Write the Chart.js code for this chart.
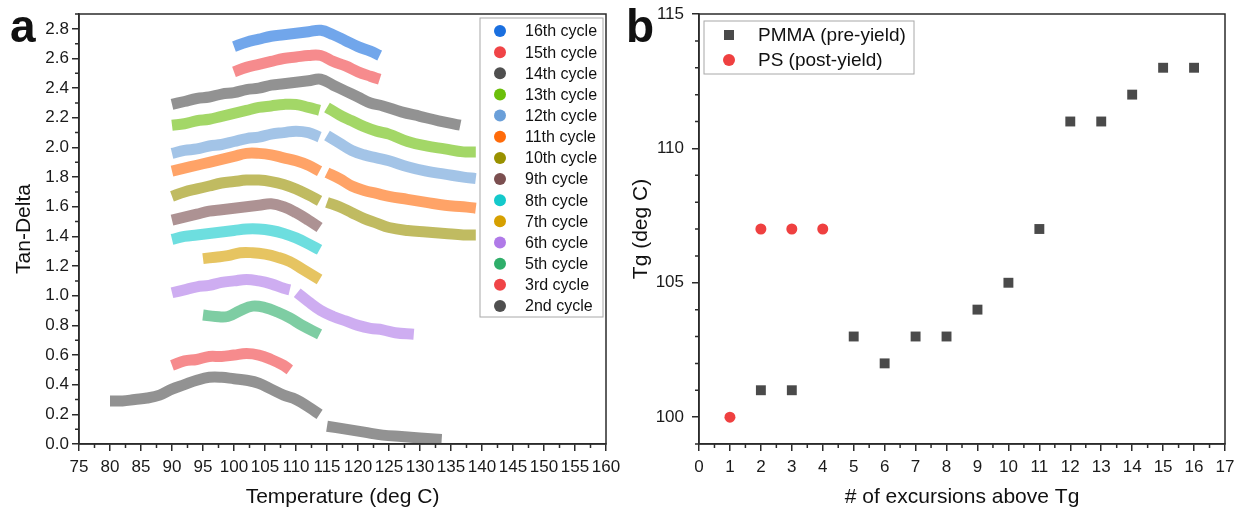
<!DOCTYPE html>
<html>
<head>
<meta charset="utf-8">
<script src="https://cdn.jsdelivr.net/npm/chart.js@4.4.1/dist/chart.umd.min.js"></script>
<style>
  body { margin: 0; background: #fff; }
  .panel { position: absolute; top: 0; height: 512px; }
</style>
</head>
<body>
<div class="panel" style="left:0;width:625px"><canvas id="chartA" width="625" height="512"></canvas></div>
<div class="panel" style="left:619px;width:619px"><canvas id="chartB" width="619" height="512"></canvas></div>
<script>
// ===== Panel a data: tan-delta vs temperature (null = gap in the trace) =====
const temp16 = [100, 102, 104, 106, 108, 110, 112, 114, 116, 118, 120, 122, 123.5];
const tan16  = [2.68, 2.71, 2.73, 2.75, 2.76, 2.77, 2.78, 2.79, 2.76, 2.72, 2.68, 2.65, 2.62];
const temp15 = [100, 102, 104, 106, 108, 110, 112, 114, 116, 118, 120, 122, 123.5];
const tan15  = [2.51, 2.54, 2.56, 2.58, 2.60, 2.61, 2.62, 2.62, 2.58, 2.55, 2.51, 2.48, 2.46];
const temp14 = [90, 92, 94, 96, 98, 100, 102, 104, 106, 108, 110, 112, 114, 116, 118, 120, 122, 124, 127, 130, 133, 136.5];
const tan14  = [2.29, 2.31, 2.33, 2.34, 2.36, 2.37, 2.39, 2.40, 2.42, 2.43, 2.44, 2.45, 2.46, 2.42, 2.38, 2.34, 2.30, 2.28, 2.24, 2.21, 2.18, 2.15];
const temp13 = [90, 92, 94, 96, 98, 100, 102, 104, 106, 108, 110, 112, 113.8, 114.4, 115, 117, 119, 121, 123, 125, 128, 131, 134, 137, 139];
const tan13  = [2.15, 2.16, 2.18, 2.19, 2.21, 2.23, 2.25, 2.27, 2.28, 2.29, 2.29, 2.27, 2.25, null, 2.27, 2.22, 2.18, 2.14, 2.11, 2.09, 2.04, 2.01, 1.99, 1.97, 1.97];
const temp12 = [90, 92, 94, 96, 98, 100, 102, 104, 106, 108, 110, 112, 113.8, 114.4, 115, 117, 119, 121, 123, 125, 128, 131, 134, 137, 139];
const tan12  = [1.96, 1.98, 1.99, 2.01, 2.02, 2.04, 2.06, 2.07, 2.09, 2.10, 2.11, 2.10, 2.07, null, 2.08, 2.03, 1.98, 1.95, 1.93, 1.91, 1.87, 1.84, 1.82, 1.80, 1.79];
const temp11 = [90, 92, 94, 96, 98, 100, 102, 104, 106, 108, 110, 112, 113.8, 114.4, 115, 117, 119, 121, 123, 125, 128, 131, 134, 137, 139];
const tan11  = [1.84, 1.86, 1.88, 1.90, 1.92, 1.94, 1.96, 1.96, 1.95, 1.93, 1.91, 1.88, 1.84, null, 1.83, 1.79, 1.74, 1.71, 1.69, 1.67, 1.65, 1.63, 1.61, 1.60, 1.59];
const temp10 = [90, 92, 94, 96, 98, 100, 102, 104, 106, 108, 110, 112, 113.8, 114.4, 115, 117, 119, 121, 123, 125, 128, 131, 134, 137, 139];
const tan10  = [1.67, 1.70, 1.72, 1.74, 1.76, 1.77, 1.78, 1.78, 1.77, 1.75, 1.72, 1.68, 1.64, null, 1.63, 1.60, 1.56, 1.52, 1.49, 1.46, 1.44, 1.43, 1.42, 1.41, 1.41];
const temp9  = [90, 92, 94, 96, 98, 100, 102, 104, 106, 108, 110, 112, 113.8];
const tan9   = [1.51, 1.53, 1.55, 1.57, 1.58, 1.59, 1.60, 1.61, 1.62, 1.60, 1.56, 1.51, 1.46];
const temp8  = [90, 92, 94, 96, 98, 100, 102, 104, 106, 108, 110, 112, 113.8];
const tan8   = [1.38, 1.40, 1.41, 1.42, 1.43, 1.44, 1.45, 1.45, 1.44, 1.42, 1.39, 1.35, 1.31];
const temp7  = [95, 97, 99, 101, 103, 105, 107, 109, 111, 113.8];
const tan7   = [1.25, 1.26, 1.27, 1.29, 1.29, 1.28, 1.26, 1.23, 1.18, 1.11];
const temp6  = [90, 92, 94, 96, 98, 100, 102, 104, 106, 108, 109, 109.6, 110.2, 112, 114, 116, 118, 120, 122, 124, 126, 129];
const tan6   = [1.02, 1.04, 1.06, 1.07, 1.09, 1.10, 1.11, 1.10, 1.08, 1.05, 1.04, null, 1.02, 0.96, 0.90, 0.86, 0.83, 0.80, 0.78, 0.77, 0.75, 0.74];
const temp5  = [95, 97, 99, 101, 103, 105, 107, 109, 111, 113.8];
const tan5   = [0.87, 0.86, 0.86, 0.90, 0.93, 0.92, 0.89, 0.85, 0.80, 0.74];
const temp3  = [90, 92, 94, 96, 98, 100, 102, 104, 106, 108, 109];
const tan3   = [0.53, 0.56, 0.57, 0.59, 0.59, 0.60, 0.61, 0.60, 0.57, 0.53, 0.50];
const temp2  = [80, 82, 84, 86, 88, 90, 92, 94, 96, 98, 100, 102, 104, 106, 108, 110, 112, 113.8, 114.4, 115, 118, 121, 124, 127, 130, 133.5];
const tan2   = [0.29, 0.29, 0.30, 0.31, 0.33, 0.37, 0.40, 0.43, 0.45, 0.45, 0.44, 0.43, 0.41, 0.37, 0.33, 0.30, 0.25, 0.20, null, 0.12, 0.10, 0.08, 0.06, 0.05, 0.04, 0.03];

const cycleLabels = ['16th cycle', '15th cycle', '14th cycle', '13th cycle', '12th cycle', '11th cycle', '10th cycle',
                     '9th cycle', '8th cycle', '7th cycle', '6th cycle', '5th cycle', '3rd cycle', '2nd cycle'];
const cycleTemps = [temp16, temp15, temp14, temp13, temp12, temp11, temp10, temp9, temp8, temp7, temp6, temp5, temp3, temp2];
const cycleTans  = [tan16, tan15, tan14, tan13, tan12, tan11, tan10, tan9, tan8, tan7, tan6, tan5, tan3, tan2];
const cycleColors = ['#1a6fdf', '#f04447', '#4f4f4f', '#6bbf0a', '#6a9fd9', '#ff6b0a', '#999100',
                     '#7b4f50', '#14c9cb', '#d6a000', '#b07ae8', '#2fae6a', '#f04447', '#4f4f4f'];

const tempTicks = [75, 80, 85, 90, 95, 100, 105, 110, 115, 120, 125, 130, 135, 140, 145, 150, 155, 160];
const tanTicks = [0, 0.2, 0.4, 0.6, 0.8, 1.0, 1.2, 1.4, 1.6, 1.8, 2.0, 2.2, 2.4, 2.6, 2.8];

// ===== Panel b data: Tg vs number of excursions =====
const pmmaExcursions = [2, 3, 5, 6, 7, 8, 9, 10, 11, 12, 13, 14, 15, 16];
const pmmaTg = [101, 101, 103, 102, 103, 103, 104, 105, 107, 111, 111, 112, 113, 113];
const psExcursions = [1, 2, 3, 4];
const psTg = [100, 107, 107, 107];

const excursionTicks = [0, 1, 2, 3, 4, 5, 6, 7, 8, 9, 10, 11, 12, 13, 14, 15, 16, 17];
const tgTicks = [100, 105, 110, 115];

const FONT = "'Liberation Sans', Arial, sans-serif";
const AXIS = '#2b2b2b';

function alpha(hex, a) {
  const n = parseInt(hex.slice(1), 16);
  return `rgba(${n >> 16}, ${(n >> 8) & 255}, ${n & 255}, ${a})`;
}

// frame, minor ticks, axis titles, panel letter and legend box
const decorPlugin = {
  id: 'decor',
  afterDraw(chart, args, o) {
    const { ctx, chartArea: a, scales: { x, y } } = chart;
    ctx.save();
    ctx.strokeStyle = AXIS;
    ctx.lineWidth = 1.5;
    ctx.strokeRect(a.left, a.top, a.right - a.left, a.bottom - a.top);

    ctx.beginPath();
    o.xMinor.forEach(v => { const px = x.getPixelForValue(v); ctx.moveTo(px, a.bottom); ctx.lineTo(px, a.bottom + 4); });
    o.yMinor.forEach(v => { const py = y.getPixelForValue(v); ctx.moveTo(a.left, py); ctx.lineTo(a.left - 4, py); });
    ctx.stroke();

    ctx.fillStyle = '#111';
    ctx.font = `21px ${FONT}`;
    ctx.textAlign = 'center';
    ctx.textBaseline = 'middle';
    ctx.fillText(o.xTitle, (a.left + a.right) / 2, 497);
    ctx.save();
    ctx.translate(o.yTitleX, (a.top + a.bottom) / 2);
    ctx.rotate(-Math.PI / 2);
    ctx.fillText(o.yTitle, 0, 0);
    ctx.restore();

    ctx.font = `bold 46px ${FONT}`;
    ctx.textAlign = 'left';
    ctx.textBaseline = 'alphabetic';
    ctx.fillText(o.letter, o.letterX, 42);

    const L = o.legend;
    ctx.strokeStyle = '#a8a8a8';
    ctx.lineWidth = 1;
    ctx.strokeRect(L.x, L.y, L.w, L.h);
    ctx.font = `${L.fontSize}px ${FONT}`;
    ctx.textBaseline = 'middle';
    chart.data.datasets.forEach((ds, i) => {
      const cy = L.firstY + i * L.step;
      ctx.fillStyle = ds.markerColor;
      if (ds.markerStyle === 'rect') {
        ctx.fillRect(L.markX - 5, cy - 5, 10, 10);
      } else {
        ctx.beginPath();
        ctx.arc(L.markX, cy, 6, 0, Math.PI * 2);
        ctx.fill();
      }
      ctx.fillStyle = '#111';
      ctx.fillText(ds.label, L.textX, cy + 1);
    });
    ctx.restore();
  }
};

function axisOpts(min, max, ticks, fmt, isY, width, pad) {
  return {
    type: 'linear',
    min: min,
    max: max,
    afterBuildTicks: s => { s.ticks = ticks.map(v => ({ value: v })); },
    afterFit: s => {
      if (isY) s.width = width; else s.height = 68;
      // keep edge labels from pushing the plot area around
      s.paddingTop = 0; s.paddingBottom = 0; s.paddingLeft = 0; s.paddingRight = 0;
    },
    grid: { display: true, drawOnChartArea: false, drawTicks: true, tickLength: 7, color: AXIS, lineWidth: 1.5 },
    border: { display: true, color: AXIS, width: 1.5 },
    ticks: {
      autoSkip: false,
      maxRotation: 0,
      padding: pad,
      color: '#1a1a1a',
      font: { family: FONT, size: 17 },
      callback: fmt
    }
  };
}

// ===== Panel a =====
new Chart(document.getElementById('chartA'), {
  type: 'scatter',
  plugins: [decorPlugin],
  data: {
    datasets: cycleLabels.map((label, i) => ({
      label: label,
      data: cycleTemps[i].map((t, k) => ({ x: t, y: cycleTans[i][k] })),
      showLine: true,
      spanGaps: false,
      tension: 0.4,
      borderWidth: 11,
      borderColor: alpha(cycleColors[i], 0.62),
      pointRadius: 0,
      markerColor: cycleColors[i],
      markerStyle: 'circle'
    }))
  },
  options: {
    responsive: false,
    animation: false,
    layout: { padding: { top: 14, right: 19, left: 0, bottom: 0 } },
    plugins: {
      legend: { display: false },
      tooltip: { enabled: false },
      decor: {
        xMinor: tempTicks.slice(0, -1).map(v => v + 2.5),
        yMinor: tanTicks.map(v => v + 0.1),
        xTitle: 'Temperature (deg C)',
        yTitle: 'Tan-Delta',
        yTitleX: 24,
        letter: 'a',
        letterX: 10,
        legend: { x: 480, y: 18, w: 123, h: 299, firstY: 31, step: 21.15, markX: 500, textX: 525, fontSize: 16 }
      }
    },
    scales: {
      x: axisOpts(75, 160, tempTicks, v => String(v), false, 0, 6),
      y: axisOpts(0, 2.9, tanTicks, v => v.toFixed(1), true, 79, 3)
    }
  }
});

// ===== Panel b =====
new Chart(document.getElementById('chartB'), {
  type: 'scatter',
  plugins: [decorPlugin],
  data: {
    datasets: [
      {
        label: 'PMMA (pre-yield)',
        data: pmmaExcursions.map((n, k) => ({ x: n, y: pmmaTg[k] })),
        pointStyle: 'rect',
        pointRadius: 7,
        backgroundColor: '#4a4a4a',
        borderWidth: 0,
        markerColor: '#4a4a4a',
        markerStyle: 'rect'
      },
      {
        label: 'PS (post-yield)',
        data: psExcursions.map((n, k) => ({ x: n, y: psTg[k] })),
        pointStyle: 'circle',
        pointRadius: 5.5,
        backgroundColor: '#ef4040',
        borderWidth: 0,
        markerColor: '#ef4040',
        markerStyle: 'circle'
      }
    ]
  },
  options: {
    responsive: false,
    animation: false,
    layout: { padding: { top: 14, right: 13, left: 0, bottom: 0 } },
    plugins: {
      legend: { display: false },
      tooltip: { enabled: false },
      decor: {
        xMinor: excursionTicks.slice(0, -1).map(v => v + 0.5),
        yMinor: [99, 101, 102, 103, 104, 106, 107, 108, 109, 111, 112, 113, 114],
        xTitle: '# of excursions above Tg',
        yTitle: 'Tg (deg C)',
        yTitleX: 22,
        letter: 'b',
        letterX: 7,
        legend: { x: 85, y: 21, w: 210, h: 53, firstY: 35, step: 25, markX: 110, textX: 139, fontSize: 19 }
      }
    },
    scales: {
      x: axisOpts(0, 17, excursionTicks, v => String(v), false, 0, 6),
      y: axisOpts(99, 115, tgTicks, v => String(v), true, 80, 8)
    }
  }
});
</script>
</body>
</html>
